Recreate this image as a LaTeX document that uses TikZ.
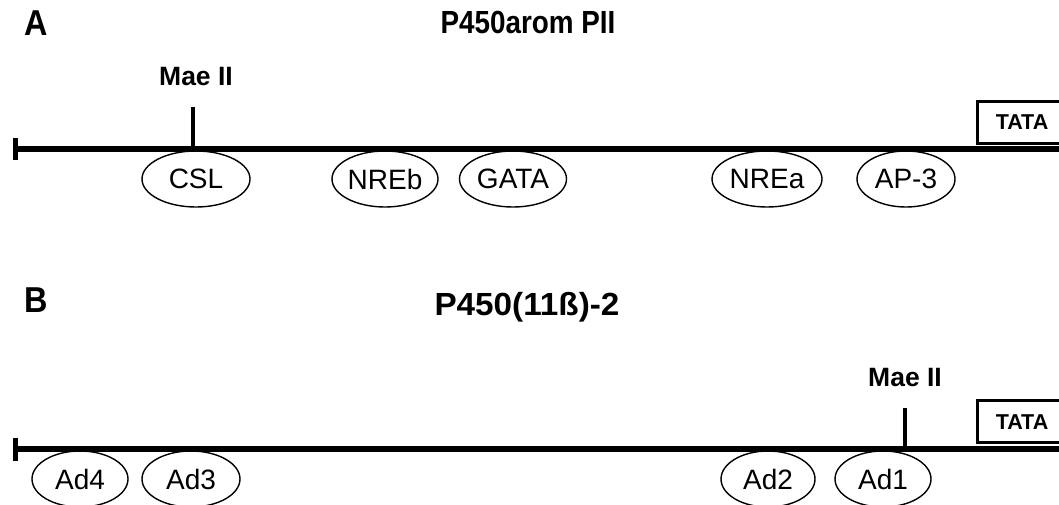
\documentclass[tikz,border=0pt]{standalone}
\usepackage{fontspec}
\setmainfont{Liberation Sans}
\usetikzlibrary{shapes.geometric}
\newcommand{\narrow}[2]{\scalebox{#1}[1]{#2}}
\begin{document}
\begin{tikzpicture}[x=1pt,y=-1pt,
  dna/.style={line width=5.5pt},
  endtick/.style={line width=5pt},
  sitetick/.style={line width=4.5pt},
  site/.style={draw,ellipse,line width=1.4pt,inner sep=0pt,minimum height=56pt,font=\fontsize{28}{32}\selectfont},
  tatabox/.style={draw,line width=3pt},
  tatalabel/.style={font=\fontsize{21.5}{26}\selectfont\bfseries},
  panel/.style={anchor=base,font=\fontsize{36}{40}\selectfont\bfseries},
  title/.style={anchor=base,font=\fontsize{32}{36}\selectfont\bfseries},
  maelabel/.style={anchor=base,font=\fontsize{26.5}{30}\selectfont\bfseries}]
\useasboundingbox (0,0) rectangle (1059,504);
\begin{scope}
\clip (0,0) rectangle (1059,504);
% ---------- Panel A ----------
\node[panel] (pA) at (36,35) {\narrow{0.9}{A}};
\node[title] (tA) at (528,33) {\narrow{0.87}{P450arom PII}};
\node[site,minimum width=108pt] (csl) at (196,179) {CSL};
\node[site,minimum width=106pt] (nreb) at (385,179) {NREb};
\node[site,minimum width=107pt] (gata) at (513,179) {GATA};
\node[site,minimum width=110pt] (nrea) at (767,179) {NREa};
\node[site,minimum width=98pt] (ap3) at (906,179) {AP-3};
\coordinate (aL) at (15,149);
\coordinate (aR) at (1065,149);
\coordinate (aT1) at (15,138);
\coordinate (aT2) at (15,160);
\coordinate (aM) at (193,149);
\coordinate (aMt) at (193,107);
\draw[dna] (aL) -- (aR);
\draw[endtick] (aT1) -- (aT2);
\draw[sitetick] (aM) -- (aMt);
\node[maelabel] (maeA) at (196,85) {Mae II};
\draw[tatabox] (977,101) rectangle (1065,143);
\node[tatalabel] (tataA) at (1022,122) {TATA};
% ---------- Panel B ----------
\node[panel] (pB) at (36,312) {\narrow{0.9}{B}};
\node[title] (tB) at (527,315) {\narrow{1.04}{P450(11ß)-2}};
\node[site,minimum width=96pt] (ad4) at (80,479) {Ad4};
\node[site,minimum width=98pt] (ad3) at (191,479) {Ad3};
\node[site,minimum width=94pt] (ad2) at (768,479) {Ad2};
\node[site,minimum width=96pt] (ad1) at (883,479) {Ad1};
\coordinate (bL) at (15,449);
\coordinate (bR) at (1065,449);
\coordinate (bT1) at (15,438);
\coordinate (bT2) at (15,461);
\coordinate (bM) at (905,449);
\coordinate (bMt) at (905,408);
\draw[dna] (bL) -- (bR);
\draw[endtick] (bT1) -- (bT2);
\draw[sitetick] (bM) -- (bMt);
\node[maelabel] (maeB) at (905,386) {Mae II};
\draw[tatabox] (977,400) rectangle (1065,442);
\node[tatalabel] (tataB) at (1022,422) {TATA};
\end{scope}
\end{tikzpicture}
\end{document}
